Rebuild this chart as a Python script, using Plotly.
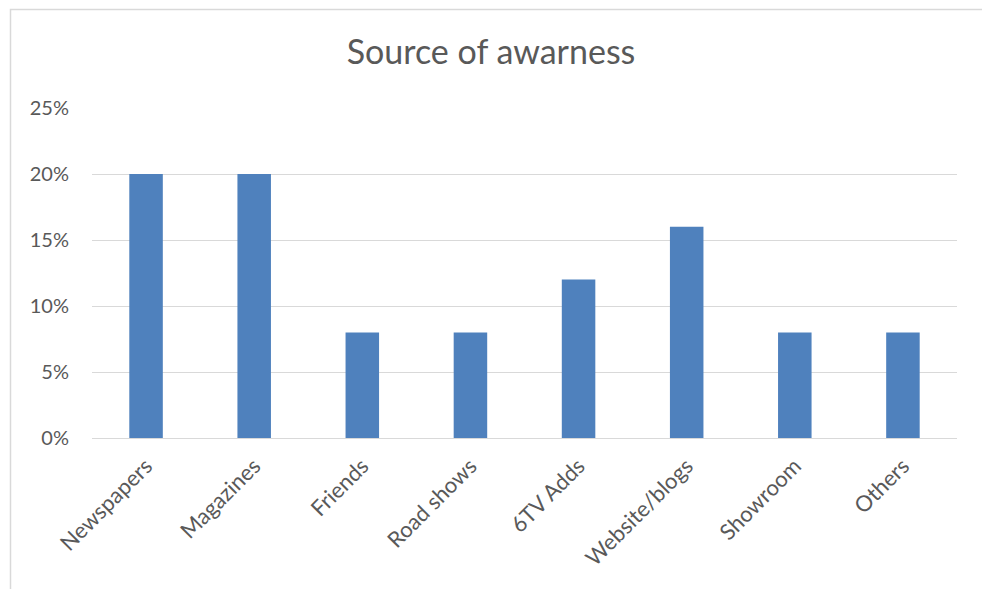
import plotly.graph_objects as go

categories = ["Newspapers", "Magazines", "Friends", "Road shows", "6TV Adds",
              "Website/blogs", "Showroom", "Others"]
shares = [0.20, 0.20, 0.08, 0.08, 0.12, 0.16, 0.08, 0.08]
y_ticks = [0, 0.05, 0.10, 0.15, 0.20, 0.25]
y_tick_labels = ["0%", "5%", "10%", "15%", "20%", "25%"]

W, H = 982, 589
L, R, T, B = 92, 25, 108, 151
plot_w = W - L - R
plot_h = H - T - B


def px_to_paper_x(px):
    return (px - L) / plot_w


def px_to_paper_y(py):
    return (H - B - py) / plot_h


text_color = "#595959"
grid_color = "#D9D9D9"
font_family = "Lato, 'Open Sans', sans-serif"

fig = go.Figure(
    go.Bar(
        x=categories,
        y=shares,
        marker=dict(color="#4F81BD", line=dict(width=0)),
        hoverinfo="x+y",
    )
)

fig.update_layout(
    width=W,
    height=H,
    margin=dict(l=L, r=R, t=T, b=B),
    paper_bgcolor="white",
    plot_bgcolor="white",
    bargap=0.69,
    showlegend=False,
    title=dict(
        text="Source of awarness",
        x=0.5,
        xanchor="center",
        y=1 - 52 / H,
        yanchor="middle",
        font=dict(family=font_family, size=34, color=text_color),
    ),
    font=dict(family=font_family, color=text_color),
    shapes=[
        dict(
            type="rect",
            xref="paper",
            yref="paper",
            x0=px_to_paper_x(10.5),
            x1=px_to_paper_x(990),
            y0=px_to_paper_y(600),
            y1=px_to_paper_y(9.5),
            line=dict(color=grid_color, width=1.5),
            fillcolor="rgba(0,0,0,0)",
            layer="below",
        )
    ],
)

fig.update_yaxes(
    range=[0, 0.25],
    tickvals=y_ticks,
    ticktext=y_tick_labels,
    showgrid=True,
    gridcolor=grid_color,
    gridwidth=1,
    zeroline=True,
    zerolinecolor=grid_color,
    zerolinewidth=1,
    showline=False,
    ticks="",
    ticklabelstandoff=22,
    tickfont=dict(family=font_family, size=20, color=text_color),
    fixedrange=True,
)

fig.update_xaxes(
    showgrid=False,
    showline=False,
    ticks="",
    tickangle=-45,
    ticklabelstandoff=10,
    tickfont=dict(family=font_family, size=22, color=text_color),
    fixedrange=True,
)

fig.write_html("out.html", config={"displayModeBar": False})
